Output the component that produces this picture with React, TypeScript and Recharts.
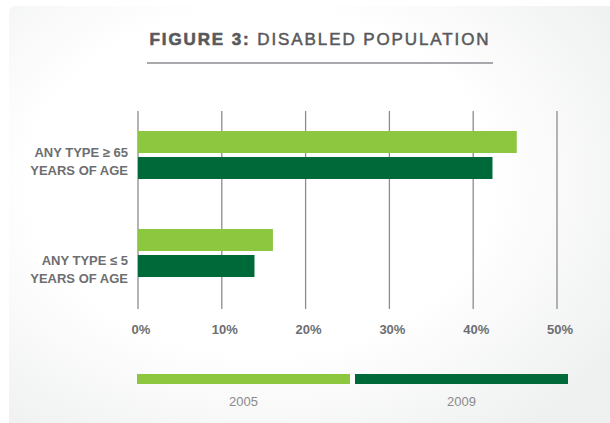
import React from 'react';
import {
  BarChart,
  Bar,
  XAxis,
  YAxis,
  CartesianGrid,
  Legend,
} from 'recharts';

const categories = ['ANY TYPE ≥ 65\nYEARS OF AGE', 'ANY TYPE ≤ 5\nYEARS OF AGE'];
const values2005 = [45.2, 16.1];
const values2009 = [42.3, 13.9];
const xTicks = [0, 10, 20, 30, 40, 50];
const seriesNames = ['2005', '2009'];
const seriesColors = ['#8dc63f', '#00693a'];

const FONT = '"Liberation Sans", Arial, Helvetica, sans-serif';
const TEXT_GRAY = '#6d6e71';

const data = categories.map((name, i) => ({
  name,
  y2005: values2005[i],
  y2009: values2009[i],
}));

// two-line category label, right aligned against the plot
const CategoryTick = (props: any) => {
  const { x, y, payload, index } = props;
  const lines = String(payload.value).split('\n');
  const shift = index === 0 ? -3 : 7;
  return (
    <text
      x={x}
      y={y + shift}
      textAnchor="end"
      fill={TEXT_GRAY}
      fontFamily={FONT}
      fontSize={13}
      fontWeight={700}
    >
      {lines.map((line, i) => (
        <tspan key={i} x={x - 2} dy={i === 0 ? 4.5 : 18.5}>
          {line}
        </tspan>
      ))}
    </text>
  );
};

const PercentTick = (props: any) => {
  const { x, y, payload } = props;
  return (
    <text
      x={x + 3}
      y={y}
      dy="0.71em"
      textAnchor="middle"
      fill={TEXT_GRAY}
      fontFamily={FONT}
      fontSize={13}
      fontWeight={700}
    >
      {payload.value}%
    </text>
  );
};

// wide colour swatches with the year below each
const SwatchLegend = (props: any) => {
  const { payload } = props;
  if (!payload) return null;
  return (
    <div style={{ display: 'flex', gap: 5 }}>
      {payload.map((item: any, i: number) => (
        <div key={`leg-${i}`} style={{ width: 213, textAlign: 'center' }}>
          <div style={{ height: 10, backgroundColor: item.color }} />
          <div
            style={{
              marginTop: 10,
              fontFamily: FONT,
              fontSize: 13,
              lineHeight: '15px',
              color: '#8a8a8a',
            }}
          >
            {item.value}
          </div>
        </div>
      ))}
    </div>
  );
};

const App: React.FC = () => {
  return (
    <div
      style={{
        position: 'absolute',
        left: 0,
        top: 0,
        width: 610,
        height: 423,
        background: '#fff',
        overflow: 'hidden',
      }}
    >
      <div
        style={{
          position: 'absolute',
          left: 9,
          top: 6,
          width: 601,
          height: 417,
          borderTopLeftRadius: 6,
          background:
            'radial-gradient(ellipse 70% 75% at 42% 42%, #ffffff 55%, #eff0f0 100%)',
        }}
      />
      <div
        style={{
          position: 'absolute',
          left: 0,
          top: 30,
          width: 640,
          textAlign: 'center',
          fontFamily: FONT,
          fontSize: 17,
          letterSpacing: 1.9,
          color: '#58595b',
          whiteSpace: 'nowrap',
        }}
      >
        <span style={{ fontWeight: 700, WebkitTextStroke: '0.6px #58595b' }}>
          FIGURE 3:{' '}
        </span>
        <span style={{ fontWeight: 400, WebkitTextStroke: '0.5px #58595b' }}>
          DISABLED POPULATION
        </span>
      </div>
      <div
        style={{
          position: 'absolute',
          left: 147,
          top: 62,
          width: 346,
          height: 2,
          background: '#a7a9ac',
        }}
      />
      <div style={{ position: 'absolute', left: 0, top: 0 }}>
        <BarChart
          width={610}
          height={423}
          data={data}
          layout="vertical"
          margin={{ top: 111, right: 53, bottom: 84, left: 8 }}
          barSize={22}
          barGap={4}
        >
          <CartesianGrid
            horizontal={false}
            vertical
            stroke="#8c8c8c"
            strokeWidth={1.3}
          />
          <XAxis
            type="number"
            domain={[0, 50]}
            ticks={xTicks}
            axisLine={false}
            tickLine={false}
            tickMargin={10}
            height={30}
            tick={<PercentTick />}
            interval={0}
          />
          <YAxis
            type="category"
            dataKey="name"
            width={130}
            axisLine={false}
            tickLine={false}
            padding={{ top: -5, bottom: 7 }}
            tick={<CategoryTick />}
            interval={0}
          />
          <Legend
            layout="horizontal"
            verticalAlign="middle"
            align="center"
            wrapperStyle={{ top: 374, left: 137, width: 436 }}
            content={<SwatchLegend />}
          />
          <Bar
            dataKey="y2005"
            name={seriesNames[0]}
            fill={seriesColors[0]}
            isAnimationActive={false}
          />
          <Bar
            dataKey="y2009"
            name={seriesNames[1]}
            fill={seriesColors[1]}
            isAnimationActive={false}
          />
        </BarChart>
      </div>
    </div>
  );
};

export default App;
